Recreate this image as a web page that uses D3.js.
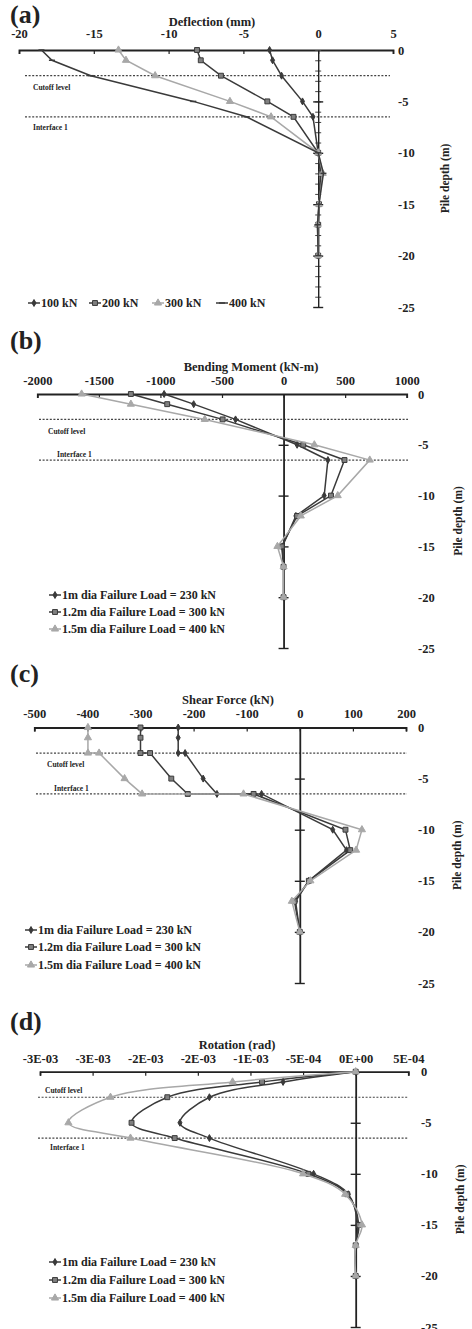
<!DOCTYPE html>
<html>
<head>
<meta charset="utf-8">
<script src="https://cdn.jsdelivr.net/npm/d3@7"></script>
<style>
  body { margin: 0; background: #fff; }
  svg text { font-family: "Liberation Serif", "Times New Roman", serif; font-weight: bold; fill: #222; }
</style>
</head>
<body>
<div id="chart"></div>
<script>
// ---- data ----
const depths = [0, -1, -2.5, -5, -6.5, -10, -12, -15, -17, -20]
const shearDepths = [0, -1, -2.5, -2.5, -5, -6.5, -6.5, -10, -12, -15, -17, -20]
const depthTicks = [0, -5, -10, -15, -20, -25]
const cutoffLevel = -2.5
const interfaceLevel = -6.5

const loadNames = ["100 kN", "200 kN", "300 kN", "400 kN"]
const defl100 = [-3.25, -3.05, -2.45, -1.05, -0.35, 0, 0.15, 0.05, 0, 0]
const defl200 = [-8.1, -7.85, -6.5, -3.4, -1.65, 0, 0.2, 0.05, 0, 0]
const defl300 = [-13.35, -12.85, -10.9, -5.9, -3.15, 0, 0.3, 0.05, -0.05, 0]
const defl400 = [-18.5, -17.8, -15.2, -8.35, -4.8, 0, 0.35, 0.05, -0.05, 0]
const deflTicks = [-20, -15, -10, -5, 0, 5]

const diaNames = ["1m dia Failure Load = 230 kN", "1.2m dia Failure Load = 300 kN", "1.5m dia Failure Load = 400 kN"]

const moment1m = [-970, -730, -390, 110, 360, 330, 100, -10, 0, 0]
const moment12m = [-1240, -945, -495, 160, 495, 385, 110, -15, 0, 0]
const moment15m = [-1640, -1240, -640, 250, 700, 440, 140, -50, 0, 0]
const momentTicks = [-2000, -1500, -1000, -500, 0, 500, 1000]

const shear1m = [-229, -229, -229, -216, -182, -156, -72, 62, 88, 17, -8, 0]
const shear12m = [-300, -300, -300, -282, -242, -211, -87, 86, 95, 17, -10, 0]
const shear15m = [-399, -399, -399, -378, -330, -297, -106, 117, 106, 20, -15, 0]
const shearTicks = [-500, -400, -300, -200, -100, 0, 100, 200]

const rotation1m = [0, -0.00069, -0.00139, -0.00167, -0.00139, -0.00040, -0.00007, 0.00002, 0, 0]
const rotation12m = [0, -0.00089, -0.00179, -0.00213, -0.00172, -0.00045, -0.00008, 0.00003, 0, 0]
const rotation15m = [0, -0.00117, -0.00233, -0.00273, -0.00214, -0.00050, -0.00010, 0.00006, 0, 0]
const rotationTicks = [-0.003, -0.0025, -0.002, -0.0015, -0.001, -0.0005, 0, 0.0005]
const rotationTickLabels = ["-3E-03", "-3E-03", "-2E-03", "-2E-03", "-1E-03", "-5E-04", "0E+00", "5E-04"]

// ---- styles ----
const dark = "#3a3a3a", light = "#a8a8a8"
const styles = {
    plus: { color: dark, marker: "diamond" },
    square: { color: dark, marker: "square" },
    tri: { color: light, marker: "triangle" },
    dash: { color: dark, marker: "dash" }
}

const W = 472, H = 1329
const svg = d3.select("#chart").append("svg")
    .attr("width", W).attr("height", H)

function drawMarker(g, type, color, x, y) {
    if (type === "dash") {
        g.append("path").attr("d", `M${x - 3},${y}H${x + 3}`)
            .attr("stroke", color).attr("stroke-width", 1.5)
        return
    }
    let sym = type === "square" ? d3.symbolSquare : type === "triangle" ? d3.symbolTriangle : d3.symbolDiamond
    let size = type === "square" ? 24 : type === "triangle" ? 22 : 14
    g.append("path").attr("d", d3.symbol(sym, size)())
        .attr("transform", `translate(${x},${y})`)
        .attr("fill", type === "square" ? "#808080" : color)
        .attr("stroke", color).attr("stroke-width", 1)
}

// plain hyphen minus, as in the figure
const plainNum = d => String(d)

const panels = [
    {
        label: "(a)", labelY: 23, title: "Deflection (mm)", titleX: 212, titleY: 26,
        xr: [19, 393], yr: [50, 307], domain: [-20, 5], ticks: deflTicks, tickPad: 12,
        rightX: 398, depthTitleX: 445, curve: d3.curveLinear, minor: true,
        dotX: [25, 390], cutLabel: [33, 87], intLabel: [33, 127],
        ys: depths,
        series: [
            { name: loadNames[0], values: defl100, style: styles.plus },
            { name: loadNames[1], values: defl200, style: styles.square },
            { name: loadNames[2], values: defl300, style: styles.tri },
            { name: loadNames[3], values: defl400, style: styles.dash }
        ],
        legend: { row: true, y: 303, xs: [28, 89, 152, 216] }
    },
    {
        label: "(b)", labelY: 349, title: "Bending Moment (kN-m)", titleX: 251, titleY: 371,
        xr: [37.3, 406.7], yr: [394, 648], domain: [-2000, 1000], ticks: momentTicks, tickPad: 9,
        rightX: 418, depthTitleX: 458, curve: d3.curveLinear, minor: false,
        dotX: [39, 408], cutLabel: [48, 431], intLabel: [57, 454],
        ys: depths,
        series: [
            { name: diaNames[0], values: moment1m, style: styles.plus },
            { name: diaNames[1], values: moment12m, style: styles.square },
            { name: diaNames[2], values: moment15m, style: styles.tri }
        ],
        legend: { row: false, x: 49, ys: [595, 612, 629] }
    },
    {
        label: "(c)", labelY: 682, title: "Shear Force (kN)", titleX: 228, titleY: 704,
        xr: [34.3, 406], yr: [727.5, 983], domain: [-500, 200], ticks: shearTicks, tickPad: 10,
        rightX: 418, depthTitleX: 457, curve: d3.curveLinear, minor: false,
        dotX: [36, 407], cutLabel: [47, 764], intLabel: [54, 788],
        ys: shearDepths,
        series: [
            { name: diaNames[0], values: shear1m, style: styles.plus },
            { name: diaNames[1], values: shear12m, style: styles.square },
            { name: diaNames[2], values: shear15m, style: styles.tri }
        ],
        legend: { row: false, x: 25, ys: [930, 947, 965] }
    },
    {
        label: "(d)", labelY: 1030, title: "Rotation (rad)", titleX: 237, titleY: 1049,
        xr: [40, 408.3], yr: [1071.7, 1327], domain: [-0.003, 0.0005], ticks: rotationTicks,
        tickLabels: rotationTickLabels, tickPad: 9,
        rightX: 421, depthTitleX: 460, curve: d3.curveCatmullRom.alpha(0.5), minor: false,
        dotX: [38, 408], cutLabel: [45, 1090], intLabel: [50, 1147],
        ys: depths,
        series: [
            { name: diaNames[0], values: rotation1m, style: styles.plus },
            { name: diaNames[1], values: rotation12m, style: styles.square },
            { name: diaNames[2], values: rotation15m, style: styles.tri }
        ],
        legend: { row: false, x: 49, ys: [1262, 1280, 1298] }
    }
]

panels.forEach(p => {
    let x = d3.scaleLinear().domain(p.domain).range(p.xr)
    let y = d3.scaleLinear().domain([0, -25]).range(p.yr)
    let g = svg.append("g")

    // panel letter
    g.append("text").attr("x", 10).attr("y", p.labelY)
        .attr("font-size", 26).text(p.label)

    // axis title
    g.append("text").attr("x", p.titleX).attr("y", p.titleY)
        .attr("text-anchor", "middle").attr("font-size", 12.5).text(p.title)

    // dotted reference levels
    ;[cutoffLevel, interfaceLevel].forEach(lv => {
        g.append("line")
            .attr("x1", p.dotX[0]).attr("x2", p.dotX[1])
            .attr("y1", y(lv)).attr("y2", y(lv))
            .attr("stroke", "#444").attr("stroke-width", 1.2)
            .attr("stroke-dasharray", "2,1.6")
    })
    g.append("text").attr("x", p.cutLabel[0]).attr("y", p.cutLabel[1])
        .attr("dy", "0.35em").attr("font-size", 7.5).text("Cutoff level")
    g.append("text").attr("x", p.intLabel[0]).attr("y", p.intLabel[1])
        .attr("dy", "0.35em").attr("font-size", 7.5).text("Interface 1")

    // top x axis
    let xAxis = d3.axisTop(x).tickValues(p.ticks).tickSize(-4).tickPadding(p.tickPad)
    if (p.tickLabels) xAxis.tickFormat((d, i) => p.tickLabels[i])
    else xAxis.tickFormat(plainNum)
    g.append("g").attr("transform", `translate(0,${p.yr[0]})`)
        .call(xAxis)
        .call(a => {
            a.select(".domain").attr("stroke", "#222").attr("stroke-width", 1.8)
            a.selectAll(".tick line").attr("stroke", "#222").attr("stroke-width", 1.2)
            a.selectAll(".tick text").attr("font-size", 12.5)
                .attr("font-family", "Liberation Serif, serif").attr("font-weight", "bold")
                .attr("fill", "#222")
        })

    // vertical axis at x = 0
    let vg = g.append("g").attr("transform", `translate(${x(0)},0)`)
    if (p.minor) {
        vg.append("g").call(d3.axisLeft(y).tickValues(d3.range(0, -26, -1)).tickSize(3).tickFormat(""))
            .call(a => {
                a.select(".domain").remove()
                a.selectAll(".tick line").attr("x1", -3).attr("x2", 3).attr("stroke", "#444")
            })
    }
    vg.append("g").call(d3.axisLeft(y).tickValues(depthTicks.slice(1)).tickSizeInner(5).tickSizeOuter(0).tickFormat(""))
        .call(a => {
            a.select(".domain").attr("stroke", "#222").attr("stroke-width", p.minor ? 1.4 : 1.8)
            a.selectAll(".tick line").attr("x1", -5).attr("x2", 5)
                .attr("stroke", "#222").attr("stroke-width", 1.4)
        })

    // depth labels on the right
    g.append("g").attr("transform", `translate(${p.rightX},0)`)
        .call(d3.axisRight(y).tickValues(depthTicks).tickSize(0).tickPadding(0).tickFormat(plainNum))
        .call(a => {
            a.select(".domain").remove()
            a.selectAll(".tick text").attr("font-size", 12.5)
                .attr("font-family", "Liberation Serif, serif").attr("font-weight", "bold")
                .attr("fill", "#222")
        })
    g.append("text")
        .attr("transform", `translate(${p.depthTitleX},${(p.yr[0] + p.yr[1]) / 2}) rotate(-90)`)
        .attr("text-anchor", "middle").attr("dy", "0.35em")
        .attr("font-size", 11.5).text("Pile depth (m)")

    // series
    let line = d3.line()
        .x(d => x(d[0])).y(d => y(d[1]))
        .curve(p.curve)

    p.series.forEach(s => {
        let pts = s.values.map((v, i) => [v, p.ys[i]])
        g.append("path").datum(pts)
            .attr("d", line)
            .attr("fill", "none")
            .attr("stroke", s.style.color)
            .attr("stroke-width", 1.5)
        let mg = g.append("g")
        pts.forEach(d => drawMarker(mg, s.style.marker, s.style.color, x(d[0]), y(d[1])))
    })

    // legend
    let lg = g.append("g")
    p.series.forEach((s, i) => {
        let lx = p.legend.row ? p.legend.xs[i] : p.legend.x
        let ly = p.legend.row ? p.legend.y : p.legend.ys[i]
        lg.append("line").attr("x1", lx).attr("x2", lx + 12)
            .attr("y1", ly).attr("y2", ly)
            .attr("stroke", s.style.color).attr("stroke-width", 1.5)
        drawMarker(lg, s.style.marker, s.style.color, lx + 6, ly)
        lg.append("text").attr("x", lx + 13).attr("y", ly).attr("dy", "0.35em")
            .attr("font-size", 12).text(s.name)
    })
})
</script>
</body>
</html>
